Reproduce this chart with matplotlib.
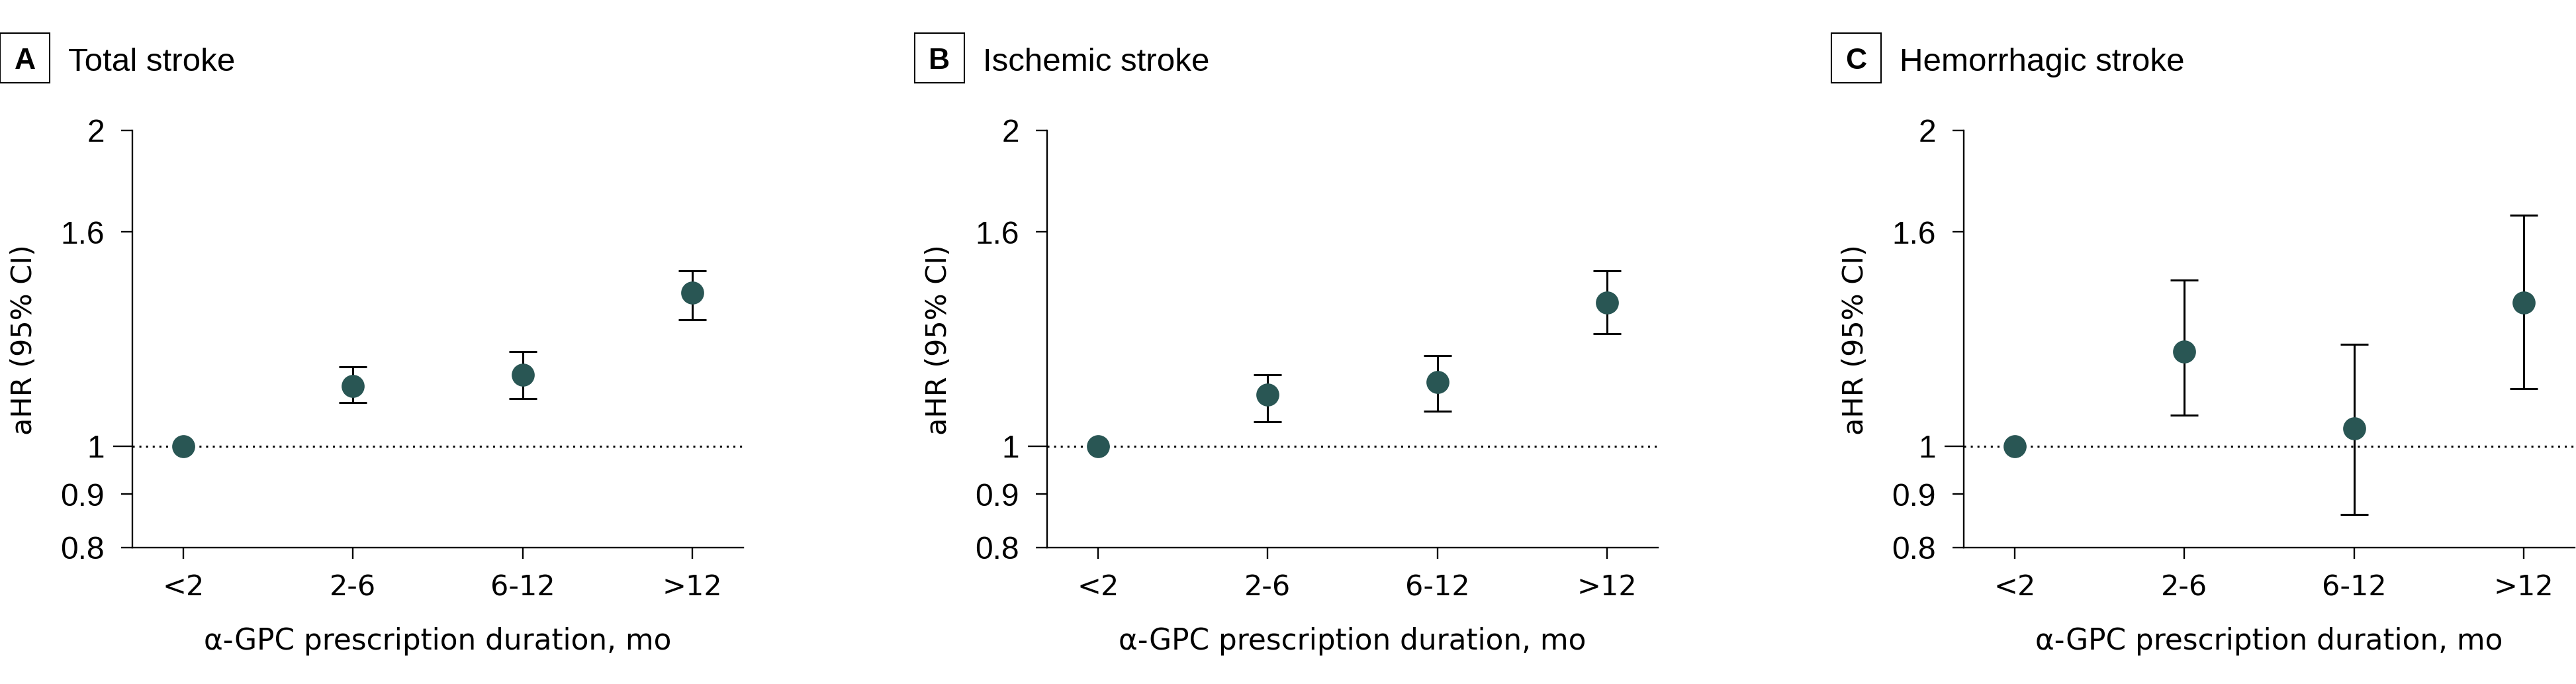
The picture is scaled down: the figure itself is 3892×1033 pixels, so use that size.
import matplotlib
matplotlib.use("Agg")
import matplotlib.pyplot as plt
import numpy as np
from matplotlib.patches import Rectangle
from matplotlib.ticker import FixedLocator, FuncFormatter

# categories and hazard ratios
categories = ["<2", "2-6", "6-12", ">12"]
panel_letters = ["A", "B", "C"]
panel_titles = ["Total stroke", "Ischemic stroke", "Hemorrhagic stroke"]

total_hr = [1.00, 1.14, 1.17, 1.40]
total_lo = [1.00, 1.10, 1.11, 1.32]
total_hi = [1.00, 1.19, 1.23, 1.47]

isch_hr = [1.00, 1.12, 1.15, 1.37]
isch_lo = [1.00, 1.055, 1.08, 1.28]
isch_hi = [1.00, 1.17, 1.22, 1.47]

hem_hr = [1.00, 1.23, 1.04, 1.37]
hem_lo = [1.00, 1.07, 0.86, 1.135]
hem_hi = [1.00, 1.44, 1.25, 1.66]

y_ticks = [0.8, 0.9, 1, 1.6, 2]

W, H = 3892, 1033
fig = plt.figure(figsize=(W / 100, H / 100), dpi=100)

#pixel -> figure fraction
def fx(px):
    return px / W

def fy(py):
    return 1 - py / H

teal = "#295654"
narrow = "Liberation Sans"
wide = "DejaVu Sans"
axes_left = [200, 1582, 2967]
ax_w = 923
top_px, bot_px = 197, 827

data = [(total_hr, total_lo, total_hi),
        (isch_hr, isch_lo, isch_hi),
        (hem_hr, hem_lo, hem_hi)]

x = np.arange(len(categories))

for i in range(3):
    left = axes_left[i]
    ax = fig.add_axes([fx(left), fy(bot_px), ax_w / W, (bot_px - top_px) / H])
    hr, lo, hi = [np.array(v) for v in data[i]]

    ax.set_yscale("log")
    ax.set_ylim(0.8, 2)
    ax.set_xlim(-0.3, 3.3)

    #reference line at 1
    ax.axhline(1, color="black", lw=2.2, linestyle=(0, (1, 2.3)), zorder=1)

    m = hi > lo
    ax.errorbar(x[m], hr[m], yerr=[hr[m] - lo[m], hi[m] - hr[m]], fmt="none",
                ecolor="black", elinewidth=2.2, capsize=15, capthick=2.2, zorder=2)
    ax.plot(x, hr, "o", color=teal, markersize=25, markeredgewidth=0, zorder=3)

    ax.spines[["top", "right"]].set_visible(False)
    for s in ["left", "bottom"]:
        ax.spines[s].set_linewidth(1.7)

    #1 gets a longer tick than the others
    ax.yaxis.set_major_locator(FixedLocator([1]))
    ax.yaxis.set_minor_locator(FixedLocator([t for t in y_ticks if t != 1]))
    fmt = FuncFormatter(lambda v, p: "{:g}".format(v))
    ax.yaxis.set_major_formatter(fmt)
    ax.yaxis.set_minor_formatter(fmt)
    ax.tick_params(axis="y", which="major", length=21, width=1.7, pad=9.5)
    ax.tick_params(axis="y", which="minor", length=12.2, width=1.7, pad=18.2)
    for lab in ax.get_yticklabels(which="both"):
        lab.set_family(narrow)
        lab.set_fontsize(34.5)

    ax.set_xticks(x)
    ax.set_xticklabels(categories)
    ax.tick_params(axis="x", length=12.2, width=1.7, pad=16)
    for lab in ax.get_xticklabels():
        lab.set_family(wide)
        lab.set_fontsize(31)

    ax.set_xlabel("\u03b1-GPC prescription duration, mo", family=wide, fontsize=31.5)
    ax.xaxis.set_label_coords(0.5, -0.19)

    fig.text(fx(left - 164), fy(513), "aHR (95% CI)", rotation=90,
             ha="center", va="center", fontsize=31, family=wide)

    # panel letter box and title
    bx = left - 200
    fig.patches.append(Rectangle((fx(bx), fy(125)), 75 / W, 75 / H, fill=False,
                                 ec="black", lw=1.5, transform=fig.transFigure,
                                 figure=fig))
    fig.text(fx(bx + 37.5), fy(104), panel_letters[i], ha="center", va="baseline",
             family=narrow, fontsize=32, fontweight="bold")
    fig.text(fx(bx + 103), fy(107), panel_titles[i], ha="left", va="baseline",
             family=narrow, fontsize=35.5)

fig.savefig("out.png", dpi=100)
